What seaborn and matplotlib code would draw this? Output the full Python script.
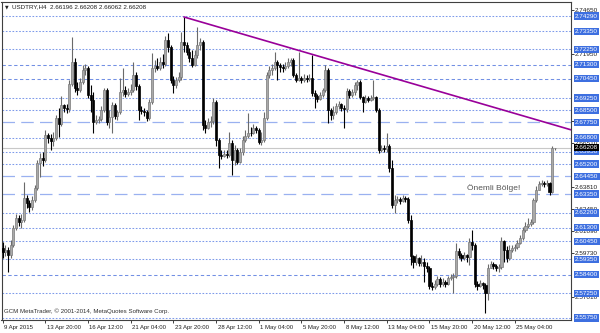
import matplotlib
matplotlib.use("Agg")
import matplotlib.pyplot as plt
import matplotlib.transforms as mtransforms
import numpy as np
import pandas as pd
import seaborn as sns

# ---------------- data (USDTRY, H4) ----------------
closes = [
    2.5980, 2.5992, 2.5961, 2.6023, 2.6127, 2.6188, 2.6164, 2.6176, 2.6311, 2.6281,
    2.6256, 2.6299, 2.6373, 2.6526, 2.6557, 2.6545, 2.6698, 2.6680, 2.6661, 2.6680,
    2.6802, 2.6766, 2.6882, 2.6864, 2.6858, 2.7011, 2.7146, 2.6987, 2.6974, 2.7024,
    2.7097, 2.7109, 2.6944, 2.6913, 2.6778, 2.6790, 2.6796, 2.6852, 2.6974, 2.6778,
    2.6809, 2.6882, 2.6815, 2.6839, 2.6962, 2.6974, 2.6950, 2.6962, 2.6974, 2.7067,
    2.6999, 2.6852, 2.6845, 2.6839, 2.6802, 2.6901, 2.7109, 2.7122, 2.7109, 2.7146,
    2.7134, 2.7281, 2.7238, 2.7036, 2.7005, 2.7036, 2.7054, 2.7269, 2.7251, 2.7208,
    2.7171, 2.7128, 2.7189, 2.7251, 2.7269, 2.6760, 2.6741, 2.6778, 2.6784, 2.6901,
    2.6667, 2.6575, 2.6569, 2.6581, 2.6575, 2.6649, 2.6545, 2.6606, 2.6532, 2.6594,
    2.6667, 2.6692, 2.6710, 2.6710, 2.6741, 2.6729, 2.6655, 2.6667, 2.6802, 2.7067,
    2.7097, 2.7109, 2.7146, 2.7128, 2.7116, 2.7109, 2.7122, 2.7146, 2.7159, 2.7067,
    2.7036, 2.7048, 2.7036, 2.7048, 2.7042, 2.7048, 2.6956, 2.6938, 2.6919, 2.6944,
    2.6974, 2.7097, 2.6852, 2.6821, 2.6839, 2.6876, 2.6888, 2.6864, 2.6858, 2.6968,
    2.6944, 2.6962, 2.7005, 2.7024, 2.6931, 2.6901, 2.6925, 2.6913, 2.6925, 2.6931,
    2.6852, 2.6606, 2.6618, 2.6612, 2.6631, 2.6495, 2.6268, 2.6299, 2.6305, 2.6293,
    2.6311, 2.6305, 2.6176, 2.5955, 2.5918, 2.5943, 2.5912, 2.5918, 2.5894, 2.5881,
    2.5771, 2.5765, 2.5783, 2.5814, 2.5783, 2.5796, 2.5783, 2.5820, 2.5826, 2.5832,
    2.5986, 2.5961, 2.5943, 2.5961, 2.5949, 2.6041, 2.6023, 2.5783, 2.5771, 2.5789,
    2.5777, 2.5728, 2.5881, 2.5906, 2.5894, 2.5881, 2.5888, 2.6047, 2.5992, 2.5943,
    2.5992, 2.6004, 2.6010, 2.6035, 2.6066, 2.6115, 2.6139, 2.6152, 2.6164, 2.6299,
    2.6360, 2.6397, 2.6403, 2.6397, 2.6403, 2.6348, 2.66196, 2.66208]

highs = [
    2.6041, 2.6023, 2.6010, 2.6053, 2.6146, 2.6213, 2.6207, 2.6213, 2.6410, 2.6330,
    2.6299, 2.6324, 2.6391, 2.6545, 2.6588, 2.6594, 2.6729, 2.6710, 2.6704, 2.6717,
    2.6821, 2.6864, 2.6938, 2.6888, 2.6888, 2.7036, 2.7300, 2.7171, 2.7024, 2.7048,
    2.7128, 2.7134, 2.7122, 2.7005, 2.6962, 2.6821, 2.6815, 2.6876, 2.6987, 2.6987,
    2.6852, 2.6901, 2.6895, 2.6852, 2.7048, 2.7109, 2.6999, 2.6987, 2.7011, 2.7146,
    2.7085, 2.7011, 2.6876, 2.6864, 2.6852, 2.6919, 2.7202, 2.7159, 2.7171, 2.7177,
    2.7195, 2.7306, 2.7324, 2.7251, 2.7060, 2.7054, 2.7085, 2.7331, 2.7423, 2.7269,
    2.7232, 2.7220, 2.7220, 2.7361, 2.7294, 2.7281, 2.6790, 2.6802, 2.6815, 2.6925,
    2.6913, 2.6680, 2.6606, 2.6606, 2.6606, 2.6717, 2.6667, 2.6637, 2.6618, 2.6618,
    2.6692, 2.6729, 2.6833, 2.6747, 2.6766, 2.6753, 2.6741, 2.6717, 2.6839, 2.7085,
    2.7122, 2.7134, 2.7208, 2.7159, 2.7140, 2.7134, 2.7146, 2.7171, 2.7171, 2.7171,
    2.7079, 2.7208, 2.7060, 2.7073, 2.7067, 2.7073, 2.7189, 2.6974, 2.6950, 2.6962,
    2.6987, 2.7128, 2.7109, 2.6864, 2.6876, 2.6895, 2.6907, 2.6895, 2.6882, 2.6987,
    2.6981, 2.6981, 2.7024, 2.7036, 2.7036, 2.6938, 2.6944, 2.6938, 2.6944, 2.7036,
    2.6938, 2.6864, 2.6637, 2.6637, 2.6710, 2.6643, 2.6545, 2.6330, 2.6324, 2.6317,
    2.6330, 2.6324, 2.6317, 2.6207, 2.5961, 2.5967, 2.5949, 2.5961, 2.5943, 2.5918,
    2.5894, 2.5796, 2.5808, 2.5832, 2.5826, 2.5820, 2.5808, 2.5832, 2.5845, 2.5851,
    2.6035, 2.6004, 2.5974, 2.5980, 2.5967, 2.6066, 2.6115, 2.6035, 2.5802, 2.5808,
    2.5796, 2.5789, 2.5906, 2.5924, 2.5918, 2.5906, 2.5906, 2.6072, 2.6053, 2.6017,
    2.6023, 2.6023, 2.6029, 2.6053, 2.6084, 2.6133, 2.6164, 2.6188, 2.6182, 2.6311,
    2.6385, 2.6416, 2.6422, 2.6416, 2.6422, 2.6410, 2.6631, 2.66208]

lows = [
    2.5943, 2.5955, 2.5857, 2.5943, 2.6010, 2.6115, 2.6139, 2.6127, 2.6164, 2.6250,
    2.6225, 2.6238, 2.6287, 2.6360, 2.6440, 2.6508, 2.6532, 2.6649, 2.6606, 2.6631,
    2.6667, 2.6686, 2.6753, 2.6839, 2.6833, 2.6839, 2.6999, 2.6962, 2.6944, 2.6962,
    2.7011, 2.7067, 2.6925, 2.6839, 2.6710, 2.6766, 2.6772, 2.6784, 2.6839, 2.6760,
    2.6741, 2.6710, 2.6796, 2.6790, 2.6827, 2.6938, 2.6931, 2.6938, 2.6944, 2.6962,
    2.6974, 2.6790, 2.6827, 2.6815, 2.6784, 2.6790, 2.6888, 2.7085, 2.7097, 2.7097,
    2.7109, 2.7122, 2.7208, 2.7017, 2.6956, 2.6987, 2.7024, 2.7036, 2.7208, 2.7189,
    2.7146, 2.7116, 2.7122, 2.7171, 2.7220, 2.6729, 2.6710, 2.6735, 2.6747, 2.6766,
    2.6631, 2.6495, 2.6551, 2.6563, 2.6557, 2.6563, 2.6453, 2.6514, 2.6520, 2.6526,
    2.6575, 2.6655, 2.6680, 2.6692, 2.6704, 2.6710, 2.6643, 2.6637, 2.6655, 2.6790,
    2.7048, 2.7067, 2.7097, 2.7036, 2.7085, 2.7085, 2.7097, 2.7109, 2.7122, 2.7054,
    2.7024, 2.7030, 2.7017, 2.7024, 2.7024, 2.7030, 2.6938, 2.6864, 2.6901, 2.6913,
    2.6931, 2.6962, 2.6772, 2.6790, 2.6796, 2.6827, 2.6858, 2.6845, 2.6741, 2.6839,
    2.6925, 2.6931, 2.6944, 2.6974, 2.6919, 2.6839, 2.6895, 2.6901, 2.6907, 2.6913,
    2.6839, 2.6588, 2.6594, 2.6594, 2.6594, 2.6471, 2.6250, 2.6219, 2.6281, 2.6274,
    2.6287, 2.6287, 2.6158, 2.5900, 2.5881, 2.5900, 2.5894, 2.5894, 2.5796, 2.5857,
    2.5753, 2.5746, 2.5753, 2.5771, 2.5765, 2.5771, 2.5765, 2.5777, 2.5808, 2.5728,
    2.5820, 2.5943, 2.5924, 2.5931, 2.5918, 2.5900, 2.5992, 2.5765, 2.5746, 2.5765,
    2.5753, 2.5605, 2.5685, 2.5881, 2.5875, 2.5863, 2.5857, 2.5875, 2.5918, 2.5918,
    2.5931, 2.5980, 2.5986, 2.5998, 2.6029, 2.6053, 2.6103, 2.6127, 2.6139, 2.6152,
    2.6287, 2.6360, 2.6385, 2.6379, 2.6385, 2.6330, 2.6342, 2.66062]

first_open = 2.6004
opens = [first_open] + closes[:-1]   # each bar opens at the previous close

date_tick_bars = [0, 16, 32, 48, 64, 80, 96, 112, 128, 144, 160, 176, 192]
date_labels = ["9 Apr 2015", "13 Apr 20:00", "16 Apr 12:00", "21 Apr 04:00",
               "23 Apr 20:00", "28 Apr 12:00", "1 May 04:00", "5 May 20:00",
               "8 May 12:00", "13 May 04:00", "15 May 20:00", "20 May 12:00",
               "25 May 04:00"]

level_prices = [2.74290, 2.73350, 2.72250, 2.71300, 2.70450, 2.69250, 2.68500,
                2.67750, 2.66800, 2.65950, 2.65200, 2.64450, 2.63350, 2.62200,
                2.61300, 2.60450, 2.59350, 2.58400, 2.57250, 2.55750]
level_styles = ["dot", "dot", "dot", "dash", "dash", "dot", "dot",
                "long", "dot", "dot", "dot", "long", "long", "dot",
                "dot", "dot", "dot", "dash", "dot", "dot"]

# price-scale labels that peek out between the level boxes
scale_labels = [2.74650, 2.71950, 2.67870, 2.66510, 2.63810, 2.62450,
                2.61090, 2.59730, 2.57010]

trend_bars = [68, 104]
trend_prices = [2.7423, 2.7251]

note_text = "Önemli Bölge!"
note_bar, note_price = 174, 2.6373

symbol = "USDTRY,H4"
copyright_text = "GCM MetaTrader, © 2001-2014, MetaQuotes Software Corp."

# ---------------- drawing ----------------
sns.set_style("white")
plt.rcParams["font.family"] = ["Liberation Sans", "DejaVu Sans"]

fig = plt.figure(figsize=(6.0, 3.33), dpi=100)
ax = fig.add_axes([1.5 / 600, 1 - 320 / 333, 569.5 / 600, 318 / 333])
ax.set_facecolor("white")

df = pd.DataFrame({"bar": np.arange(len(closes)), "open": opens, "high": highs,
                   "low": lows, "close": closes})
up = (df["close"] > df["open"]).to_numpy()

xlim = (-0.4, -0.4 + 569.5 / 2.668)
ax.set_xlim(*xlim)
ax.set_ylim(2.5562, 2.7515)

# price levels
styles = {
    "dot": dict(color="#7d9aea", ls=(0, (1.6, 1.6)), lw=0.75),
    "dash": dict(color="#7290e4", ls=(0, (3.2, 2.4)), lw=0.75),
    "long": dict(color="#9ab1f0", ls=(0, (10, 5)), lw=0.9),
}
for p, s in zip(level_prices, level_styles):
    ax.axhline(p, zorder=1, **styles[s])
ax.axhline(closes[-1], color="#c8c8c8", lw=0.8, zorder=1)

# candles
wick_colors = np.where(up, "#6a6a6a", "#000000")
ax.vlines(df["bar"], df["low"], df["high"], colors=wick_colors, linewidth=0.8, zorder=3)
body_bottom = np.minimum(df["open"], df["close"])
body_h = (df["close"] - df["open"]).abs()
ax.bar(df["bar"][up], body_h[up], bottom=body_bottom[up], width=0.8,
       color="#a9a9a9", edgecolor="#7a7a7a", linewidth=0.5, zorder=4)
ax.bar(df["bar"][~up], body_h[~up], bottom=body_bottom[~up], width=0.8,
       color="black", edgecolor="black", linewidth=0.5, zorder=4)

# trend line (ray to the right edge)
slope = (trend_prices[1] - trend_prices[0]) / (trend_bars[1] - trend_bars[0])
ray_x = [trend_bars[0], xlim[1]]
ray_y = [trend_prices[0], trend_prices[0] + slope * (xlim[1] - trend_bars[0])]
sns.lineplot(x=ray_x, y=ray_y, color="#990099", lw=1.2, ax=ax, zorder=5)

# note
ax.text(note_bar, note_price, note_text, fontsize=6.0, color="#555555",
        ha="left", va="center", zorder=6)

# x axis
ax.set_xticks(date_tick_bars)
ax.set_xticklabels(date_labels, ha="left", fontsize=4.3)
ax.tick_params(axis="x", bottom=True, length=2.5, width=0.6, pad=0.8,
               colors="#202020", direction="out")
offset = mtransforms.ScaledTranslation(1.5 / 100, 0, fig.dpi_scale_trans)
for lbl in ax.get_xticklabels():
    lbl.set_transform(lbl.get_transform() + offset)

# y axis (right)
ax.yaxis.tick_right()
ax.set_yticks(scale_labels)
ax.set_yticklabels([f"{v:.5f}" for v in scale_labels], fontsize=4.6)
ax.tick_params(axis="y", right=True, left=False, length=2, width=0.6, pad=1,
               colors="#202020")

trans = mtransforms.blended_transform_factory(ax.transAxes, ax.transData)
for p in level_prices:
    ax.text(1 + 4 / 569.5, p, f"{p:.5f}", transform=trans, ha="left", va="center",
            fontsize=4.6, color="white", clip_on=False, zorder=8,
            bbox=dict(boxstyle="square,pad=0.18", fc="#3d6fe0", ec="none"))
ax.text(1 + 4 / 569.5, closes[-1], f"{closes[-1]:.5f}", transform=trans, ha="left",
        va="center", fontsize=4.6, color="white", clip_on=False, zorder=9,
        bbox=dict(boxstyle="square,pad=0.18", fc="black", ec="none"))

for sp in ax.spines.values():
    sp.set_visible(True)
    sp.set_color("#404040")
    sp.set_linewidth(0.8)

# header and copyright
fig.text(5 / 600, 1 - 7 / 333, "▼", fontsize=3.4, va="center", ha="left",
         color="#202020", family="DejaVu Sans")
fig.text(12 / 600, 1 - 7 / 333,
         f"{symbol}  {opens[-1]:.5f} {highs[-1]:.5f} {lows[-1]:.5f} {closes[-1]:.5f}",
         fontsize=4.5, va="center", ha="left", color="#202020")
fig.text(4 / 600, 1 - 311 / 333, copyright_text, fontsize=4.4, va="center",
         ha="left", color="#303030")

fig.savefig("out.png", dpi=100, facecolor="white")
